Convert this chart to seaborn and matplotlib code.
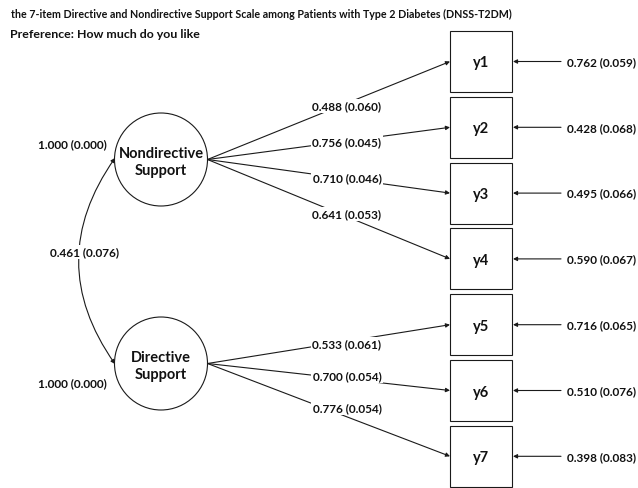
import matplotlib
matplotlib.use("Agg")
import matplotlib.pyplot as plt
from matplotlib.patches import Circle, Rectangle, FancyArrowPatch
import seaborn as sns

# ---- data ----
title_line1 = "the 7-item Directive and Nondirective Support Scale among Patients with Type 2 Diabetes (DNSS-T2DM)"
title_line2 = "Preference: How much do you like"
factors = ["Nondirective\nSupport", "Directive\nSupport"]
factor_variance = ["1.000 (0.000)", "1.000 (0.000)"]
factor_covariance = "0.461 (0.076)"
items = ["y1", "y2", "y3", "y4", "y5", "y6", "y7"]
item_factor = [0, 0, 0, 0, 1, 1, 1]
loadings = [0.488, 0.756, 0.710, 0.641, 0.533, 0.700, 0.776]
loading_se = [0.060, 0.045, 0.046, 0.053, 0.061, 0.054, 0.054]
residuals = [0.762, 0.428, 0.495, 0.590, 0.716, 0.510, 0.398]
residual_se = [0.059, 0.068, 0.066, 0.067, 0.065, 0.076, 0.083]

sns.set_style("white")
plt.rcParams["font.family"] = ["Lato", "DejaVu Sans"]

W, H = 638, 489
fig = plt.figure(figsize=(W / 100, H / 100), dpi=100)
ax = fig.add_axes([0, 0, 1, 1])
ax.set_xlim(0, W)
ax.set_ylim(H, 0)
ax.axis("off")

LC = "#1a1a1a"
TC = "#111111"
FS = 8.5
# layout
fac_x, fac_r = 161, 46.5
fac_y = [160.5, 364.5]
box_x0, box_w, box_h = 450, 62, 61
item_y = [62.5 + 65.8 * i for i in range(len(items))]
lab_x = 347
lab_y = [107, 143, 179, 215, 345, 377, 409]

ax.text(11, 14, title_line1, fontsize=7.7, fontweight="bold", ha="left", va="center", color=TC)
ax.text(10, 34.5, title_line2, fontsize=8.9, fontweight="bold", ha="left", va="center", color=TC)

for fy, name in zip(fac_y, factors):
    ax.add_patch(Circle((fac_x, fy), fac_r, fill=False, lw=0.8, ec=LC, zorder=2))
    ax.text(fac_x, fy + 2, name, fontsize=10.5, fontweight="bold", ha="center", va="center",
            linespacing=1.3, color=TC, zorder=3)

ax.text(72.5, 145, factor_variance[0], fontsize=FS, fontweight="bold", ha="center", va="center", color=TC)
ax.text(72.5, 384, factor_variance[1], fontsize=FS, fontweight="bold", ha="center", va="center", color=TC)

# covariance curve
cov = FancyArrowPatch((115, 159), (115, 365), connectionstyle="arc3,rad=0.35",
                      arrowstyle="<|-|>", mutation_scale=6, lw=0.8, color=LC,
                      shrinkA=0, shrinkB=0, zorder=1)
ax.add_patch(cov)
ax.text(84, 253, factor_covariance, fontsize=FS, fontweight="bold", ha="center", va="center",
        color=TC, zorder=4, bbox=dict(fc="white", ec="none", pad=1.0))

for i, (it, f, l, s, r, rs) in enumerate(zip(items, item_factor, loadings, loading_se, residuals, residual_se)):
    cy = item_y[i]
    ax.add_patch(Rectangle((box_x0, cy - box_h / 2), box_w, box_h, fill=False, lw=0.8, ec=LC, zorder=2))
    ax.text(box_x0 + box_w / 2, cy + 1, it, fontsize=10.5, fontweight="bold", ha="center", va="center", color=TC)
    sx, sy = fac_x + fac_r, fac_y[f]
    ax.annotate("", xy=(box_x0, cy), xytext=(sx, sy),
                arrowprops=dict(arrowstyle="-|>", mutation_scale=6, lw=0.8, color=LC,
                                shrinkA=0, shrinkB=0), zorder=1)
    ax.text(lab_x, lab_y[i], f"{l:.3f} ({s:.3f})", fontsize=FS, fontweight="bold", ha="center", va="center",
            color=TC, zorder=4, bbox=dict(fc="white", ec="none", pad=1.0))
    # residual
    ax.annotate("", xy=(box_x0 + box_w + 1, cy), xytext=(561, cy),
                arrowprops=dict(arrowstyle="-|>", mutation_scale=6, lw=0.8, color=LC,
                                shrinkA=0, shrinkB=0), zorder=1)
    ax.text(567, cy, f"{r:.3f} ({rs:.3f})", fontsize=FS, fontweight="bold", ha="left", va="center", color=TC)

fig.savefig("out.png", dpi=100, facecolor="white")
